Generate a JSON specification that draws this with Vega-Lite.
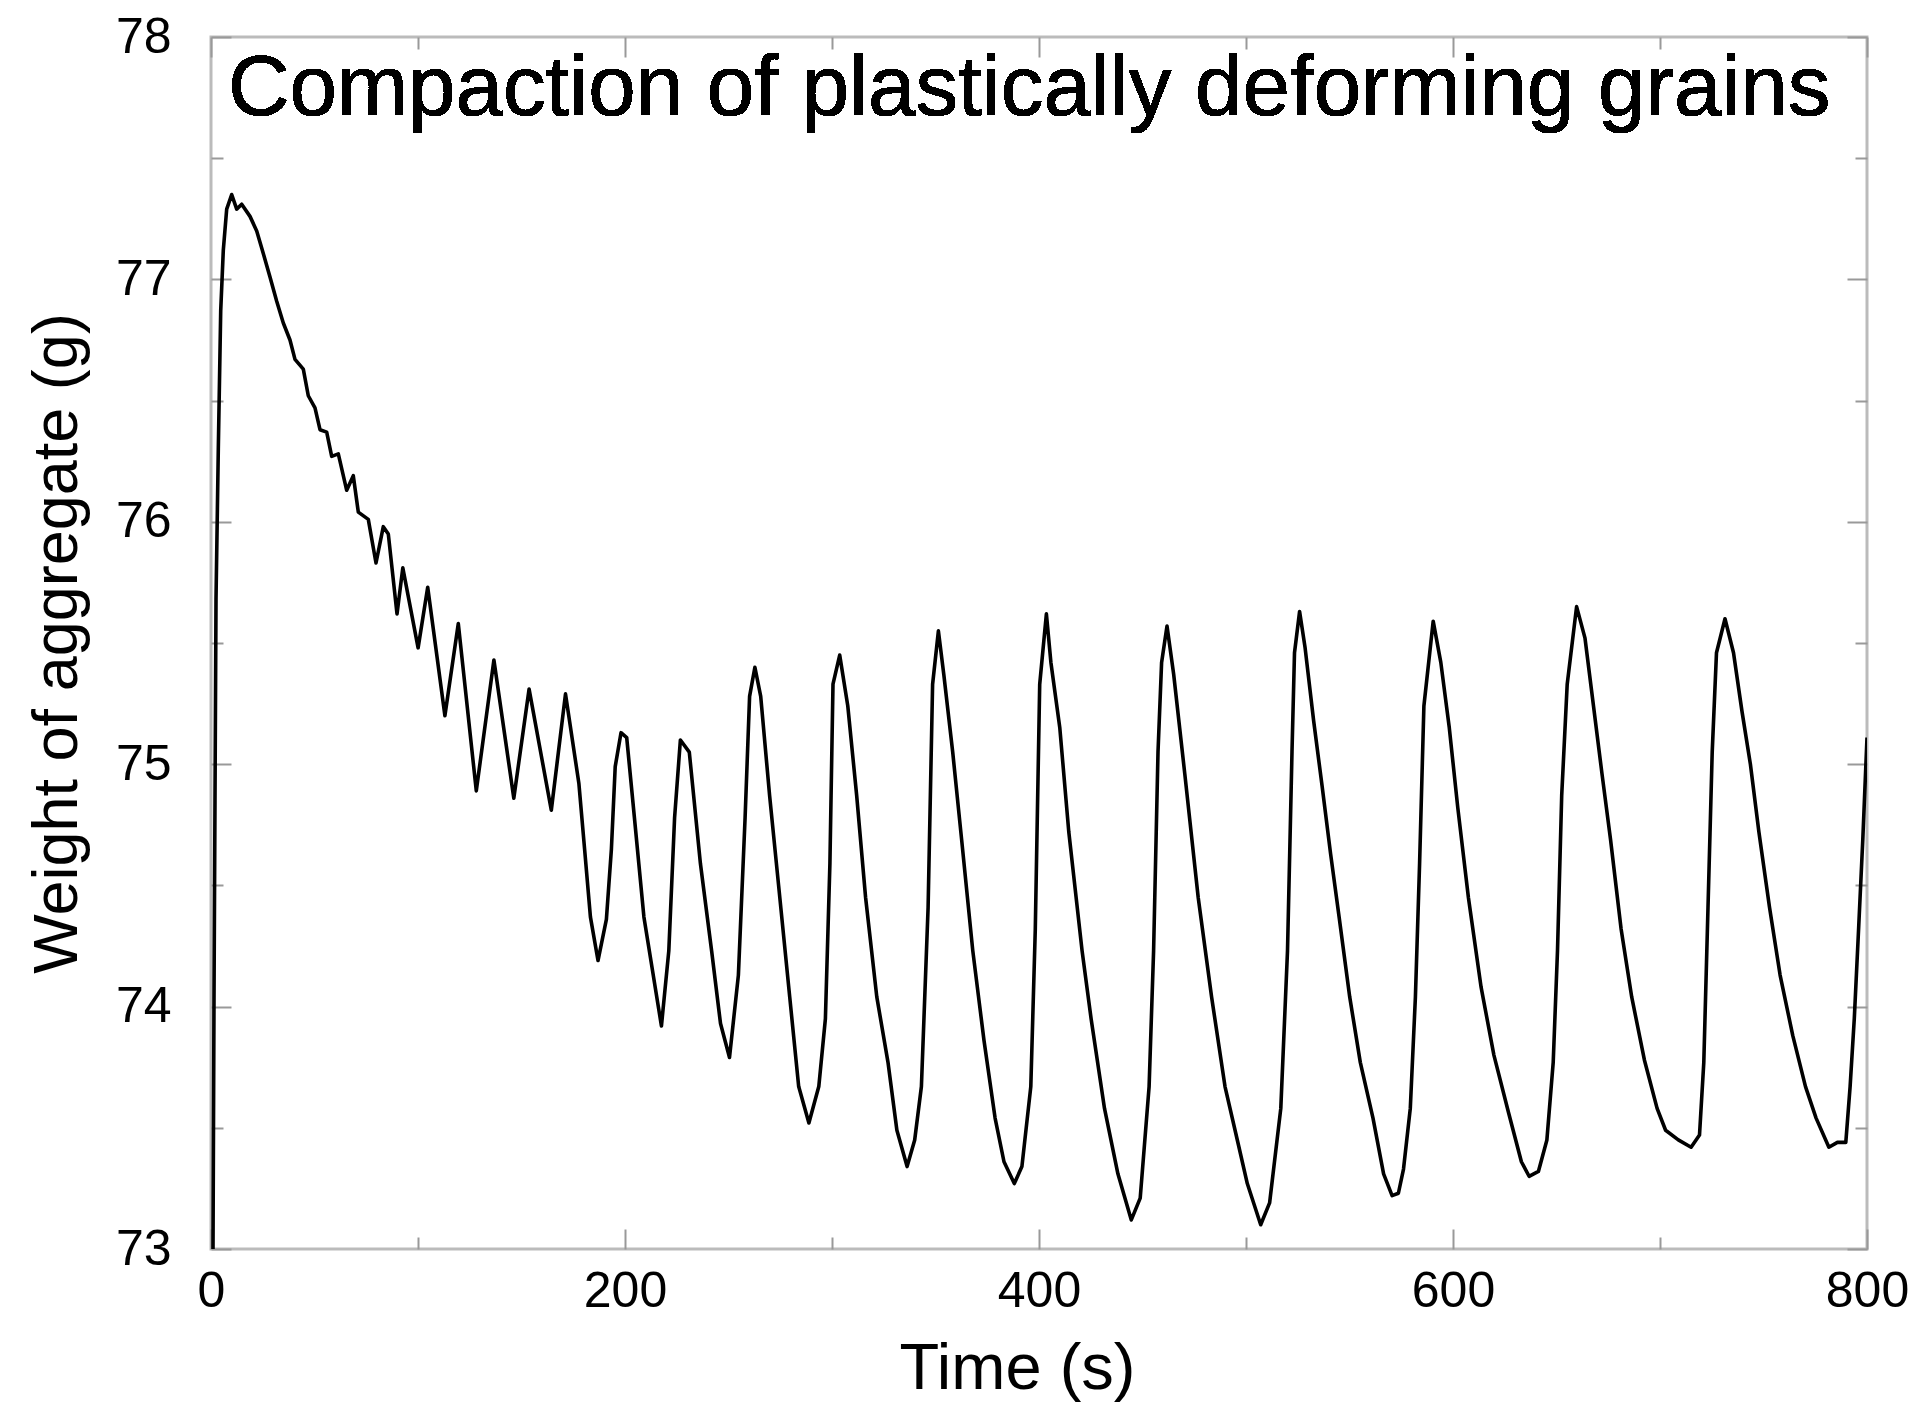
{
  "$schema": "https://vega.github.io/schema/vega-lite/v6.json",
  "width": 1656,
  "height": 1212,
  "autosize": {"type": "none"},
  "padding": {"left": 211, "top": 37, "right": 48, "bottom": 154},
  "background": "white",
  "config": {
    "view": {"stroke": "#bbbbbb", "strokeWidth": 3},
    "axis": {
      "grid": false,
      "domain": false,
      "tickColor": "#999999",
      "tickWidth": 2,
      "labelFont": "Liberation Sans",
      "labelFontSize": 50,
      "labelColor": "black",
      "titleFont": "Liberation Sans",
      "titleFontSize": 63,
      "titleFontWeight": "normal",
      "titleColor": "black",
      "labelOverlap": false,
      "labelFlush": false
    }
  },
  "data": {"values": [
    {"t": 0.97, "w": 73.0}, {"t": 1.45, "w": 74.03}, {"t": 1.93, "w": 74.85}, {"t": 2.42, "w": 75.68},
    {"t": 3.53, "w": 76.3}, {"t": 4.69, "w": 76.87}, {"t": 5.94, "w": 77.12}, {"t": 7.58, "w": 77.29},
    {"t": 10.0, "w": 77.35}, {"t": 12.42, "w": 77.29}, {"t": 14.83, "w": 77.31}, {"t": 18.84, "w": 77.26},
    {"t": 22.08, "w": 77.2}, {"t": 24.49, "w": 77.13}, {"t": 28.5, "w": 77.01}, {"t": 31.74, "w": 76.91},
    {"t": 34.93, "w": 76.82}, {"t": 38.16, "w": 76.75}, {"t": 40.58, "w": 76.67}, {"t": 44.59, "w": 76.63},
    {"t": 47.0, "w": 76.52}, {"t": 50.24, "w": 76.47}, {"t": 52.66, "w": 76.38}, {"t": 55.89, "w": 76.37},
    {"t": 58.31, "w": 76.27}, {"t": 61.5, "w": 76.28}, {"t": 65.56, "w": 76.13}, {"t": 68.74, "w": 76.19},
    {"t": 71.16, "w": 76.04}, {"t": 75.99, "w": 76.01}, {"t": 79.71, "w": 75.83}, {"t": 83.24, "w": 75.98},
    {"t": 85.65, "w": 75.95}, {"t": 89.86, "w": 75.62}, {"t": 92.66, "w": 75.81}, {"t": 100.05, "w": 75.48},
    {"t": 104.69, "w": 75.73}, {"t": 113.0, "w": 75.2}, {"t": 119.47, "w": 75.58}, {"t": 128.16, "w": 74.89},
    {"t": 136.67, "w": 75.43}, {"t": 146.28, "w": 74.86}, {"t": 153.67, "w": 75.31}, {"t": 164.4, "w": 74.81},
    {"t": 171.26, "w": 75.29}, {"t": 177.73, "w": 74.92}, {"t": 180.48, "w": 74.65}, {"t": 183.29, "w": 74.37},
    {"t": 186.96, "w": 74.19}, {"t": 191.01, "w": 74.36}, {"t": 193.43, "w": 74.65}, {"t": 195.27, "w": 74.99},
    {"t": 198.07, "w": 75.13}, {"t": 200.82, "w": 75.11}, {"t": 204.54, "w": 74.78}, {"t": 209.13, "w": 74.37},
    {"t": 217.6, "w": 73.92}, {"t": 221.16, "w": 74.23}, {"t": 223.96, "w": 74.78}, {"t": 226.76, "w": 75.1},
    {"t": 231.06, "w": 75.05}, {"t": 236.43, "w": 74.59}, {"t": 241.84, "w": 74.23}, {"t": 246.14, "w": 73.93},
    {"t": 250.48, "w": 73.79}, {"t": 254.78, "w": 74.13}, {"t": 258.02, "w": 74.78}, {"t": 260.19, "w": 75.28},
    {"t": 262.75, "w": 75.4}, {"t": 265.56, "w": 75.28}, {"t": 269.86, "w": 74.87}, {"t": 274.2, "w": 74.5},
    {"t": 279.57, "w": 74.04}, {"t": 283.91, "w": 73.67}, {"t": 288.84, "w": 73.52}, {"t": 293.62, "w": 73.67},
    {"t": 296.81, "w": 73.95}, {"t": 298.99, "w": 74.59}, {"t": 300.48, "w": 75.33}, {"t": 303.72, "w": 75.45},
    {"t": 307.63, "w": 75.24}, {"t": 311.93, "w": 74.87}, {"t": 316.23, "w": 74.45}, {"t": 321.64, "w": 74.04},
    {"t": 327.05, "w": 73.77}, {"t": 331.35, "w": 73.49}, {"t": 336.28, "w": 73.34}, {"t": 339.95, "w": 73.45},
    {"t": 343.19, "w": 73.67}, {"t": 346.43, "w": 74.41}, {"t": 348.6, "w": 75.33}, {"t": 351.4, "w": 75.55},
    {"t": 354.01, "w": 75.37}, {"t": 358.31, "w": 75.05}, {"t": 362.61, "w": 74.69}, {"t": 368.02, "w": 74.23},
    {"t": 373.43, "w": 73.86}, {"t": 378.79, "w": 73.54}, {"t": 383.09, "w": 73.36}, {"t": 388.07, "w": 73.27},
    {"t": 391.74, "w": 73.34}, {"t": 396.04, "w": 73.67}, {"t": 398.21, "w": 74.32}, {"t": 400.34, "w": 75.33},
    {"t": 403.57, "w": 75.62}, {"t": 405.75, "w": 75.42}, {"t": 410.05, "w": 75.15}, {"t": 414.4, "w": 74.72},
    {"t": 420.82, "w": 74.23}, {"t": 425.17, "w": 73.95}, {"t": 431.64, "w": 73.58}, {"t": 438.12, "w": 73.31},
    {"t": 444.59, "w": 73.12}, {"t": 448.89, "w": 73.21}, {"t": 453.19, "w": 73.67}, {"t": 455.36, "w": 74.23},
    {"t": 457.49, "w": 75.05}, {"t": 459.23, "w": 75.42}, {"t": 461.84, "w": 75.57}, {"t": 465.07, "w": 75.37},
    {"t": 470.43, "w": 74.96}, {"t": 476.91, "w": 74.45}, {"t": 483.38, "w": 74.04}, {"t": 489.86, "w": 73.67},
    {"t": 496.33, "w": 73.43}, {"t": 500.63, "w": 73.27}, {"t": 507.1, "w": 73.1}, {"t": 511.4, "w": 73.19},
    {"t": 516.81, "w": 73.58}, {"t": 520.05, "w": 74.23}, {"t": 522.22, "w": 75.05}, {"t": 523.43, "w": 75.46},
    {"t": 525.89, "w": 75.63}, {"t": 528.55, "w": 75.48}, {"t": 532.66, "w": 75.18}, {"t": 536.76, "w": 74.91},
    {"t": 540.87, "w": 74.63}, {"t": 544.98, "w": 74.37}, {"t": 550.1, "w": 74.04}, {"t": 555.22, "w": 73.77},
    {"t": 561.35, "w": 73.54}, {"t": 566.47, "w": 73.31}, {"t": 570.58, "w": 73.22}, {"t": 573.62, "w": 73.23},
    {"t": 576.09, "w": 73.33}, {"t": 579.37, "w": 73.58}, {"t": 581.84, "w": 74.04}, {"t": 583.86, "w": 74.59},
    {"t": 585.94, "w": 75.24}, {"t": 590.43, "w": 75.59}, {"t": 594.11, "w": 75.42}, {"t": 598.21, "w": 75.15},
    {"t": 602.32, "w": 74.82}, {"t": 607.44, "w": 74.45}, {"t": 613.57, "w": 74.08}, {"t": 619.76, "w": 73.8},
    {"t": 626.91, "w": 73.56}, {"t": 633.04, "w": 73.36}, {"t": 636.76, "w": 73.3}, {"t": 641.26, "w": 73.32},
    {"t": 645.36, "w": 73.45}, {"t": 648.41, "w": 73.77}, {"t": 650.48, "w": 74.23}, {"t": 652.51, "w": 74.87},
    {"t": 655.17, "w": 75.33}, {"t": 659.71, "w": 75.65}, {"t": 663.77, "w": 75.52}, {"t": 667.87, "w": 75.24},
    {"t": 671.98, "w": 74.96}, {"t": 676.09, "w": 74.69}, {"t": 681.21, "w": 74.32}, {"t": 686.33, "w": 74.04},
    {"t": 692.46, "w": 73.78}, {"t": 698.6, "w": 73.58}, {"t": 702.71, "w": 73.49}, {"t": 708.84, "w": 73.45},
    {"t": 715.02, "w": 73.42}, {"t": 719.08, "w": 73.47}, {"t": 721.16, "w": 73.77}, {"t": 723.19, "w": 74.41},
    {"t": 725.22, "w": 75.05}, {"t": 727.29, "w": 75.46}, {"t": 731.4, "w": 75.6}, {"t": 735.51, "w": 75.46},
    {"t": 739.57, "w": 75.22}, {"t": 743.67, "w": 75.0}, {"t": 747.78, "w": 74.72}, {"t": 752.9, "w": 74.41},
    {"t": 758.02, "w": 74.13}, {"t": 764.15, "w": 73.88}, {"t": 770.29, "w": 73.67}, {"t": 775.41, "w": 73.54},
    {"t": 781.59, "w": 73.42}, {"t": 785.7, "w": 73.44}, {"t": 789.76, "w": 73.44}, {"t": 791.84, "w": 73.67},
    {"t": 793.86, "w": 73.95}, {"t": 795.94, "w": 74.32}, {"t": 797.97, "w": 74.69}, {"t": 800.0, "w": 75.11}
  ]},
  "layer": [
    {
      "mark": {"type": "line", "color": "black", "strokeWidth": 3.6, "strokeJoin": "round", "clip": true},
      "encoding": {
        "x": {
          "field": "t", "type": "quantitative",
          "scale": {"domain": [0, 800], "nice": false, "zero": false},
          "axis": {
            "orient": "bottom",
            "title": "Time (s)",
            "titleFontSize": 65,
            "titleX": 806,
            "values": [0, 100, 200, 300, 400, 500, 600, 700, 800],
            "labelExpr": "datum.value % 200 === 0 ? format(datum.value, 'd') : ''",
            "tickSize": {"condition": {"test": "datum.value % 200 !== 0", "value": -12}, "value": -20},
            "labelPadding": 37,
            "titlePadding": 13
          }
        },
        "y": {
          "field": "w", "type": "quantitative",
          "scale": {"domain": [73, 78], "nice": false, "zero": false},
          "axis": {
            "orient": "left",
            "title": "Weight of aggregate (g)",
            "values": [73, 73.5, 74, 74.5, 75, 75.5, 76, 76.5, 77, 77.5, 78],
            "labelExpr": "datum.value % 1 === 0 ? format(datum.value, 'd') : ''",
            "tickSize": {"condition": {"test": "datum.value % 1 !== 0", "value": -12}, "value": -20},
            "labelPadding": 60,
            "titlePadding": 26
          }
        }
      }
    },
    {
      "mark": {"type": "line", "opacity": 0},
      "encoding": {
        "x": {
          "field": "t", "type": "quantitative",
          "axis": {
            "orient": "top", "title": null, "labels": false,
            "values": [0, 100, 200, 300, 400, 500, 600, 700, 800],
            "tickSize": {"condition": {"test": "datum.value % 200 !== 0", "value": -12}, "value": -20}
          }
        },
        "y": {
          "field": "w", "type": "quantitative",
          "axis": {
            "orient": "right", "title": null, "labels": false,
            "values": [73, 73.5, 74, 74.5, 75, 75.5, 76, 76.5, 77, 77.5, 78],
            "tickSize": {"condition": {"test": "datum.value % 1 !== 0", "value": -12}, "value": -20}
          }
        }
      }
    },
    {
      "mark": {"type": "text", "font": "Liberation Sans", "fontSize": 85.3, "color": "black", "align": "left", "baseline": "alphabetic"},
      "encoding": {
        "x": {"datum": 8.2, "type": "quantitative", "axis": null},
        "y": {"datum": 77.68, "type": "quantitative", "axis": null},
        "text": {"value": "Compaction of plastically deforming grains"}
      }
    }
  ],
  "resolve": {"axis": {"x": "independent", "y": "independent"}}
}
